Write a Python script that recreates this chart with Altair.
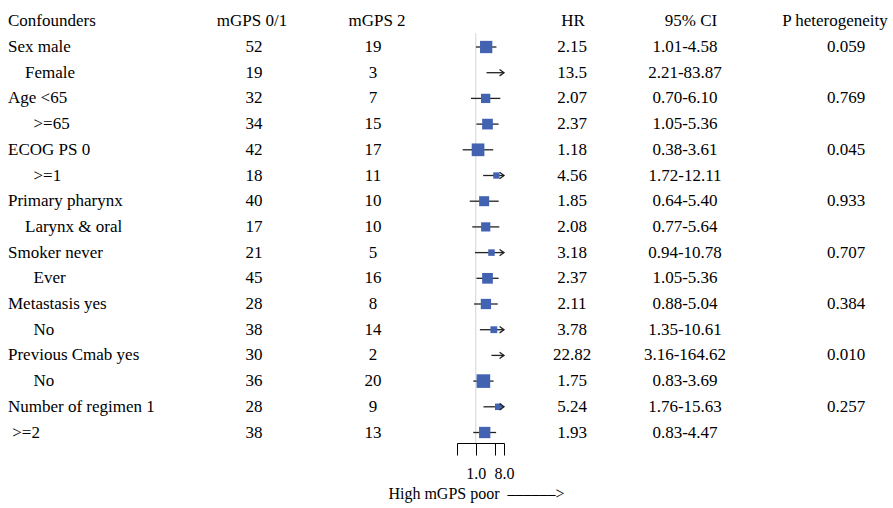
import altair as alt
import pandas as pd

NB = "\u00a0"
Z = "\u200b"
labels = ["Sex male", Z + NB*4 + "Female", "Age <65", Z + NB*6 + ">=65", "ECOG PS 0", Z + NB*6 + ">=1",
          "Primary pharynx", Z + NB*4 + "Larynx & oral", "Smoker never", Z + NB*6 + "Ever",
          "Metastasis yes", Z + NB*6 + "No", "Previous Cmab yes", Z + NB*6 + "No",
          "Number of regimen 1", Z + NB + ">=2"]
mgps01 = [52, 19, 32, 34, 42, 18, 40, 17, 21, 45, 28, 38, 30, 36, 28, 38]
mgps2 = [19, 3, 7, 15, 17, 11, 10, 10, 5, 16, 8, 14, 2, 20, 9, 13]
hr = [2.15, 13.5, 2.07, 2.37, 1.18, 4.56, 1.85, 2.08, 3.18, 2.37, 2.11, 3.78, 22.82, 1.75, 5.24, 1.93]
hr_text = ["2.15", "13.5", "2.07", "2.37", "1.18", "4.56", "1.85", "2.08", "3.18", "2.37",
           "2.11", "3.78", "22.82", "1.75", "5.24", "1.93"]
ci_lo = [1.01, 2.21, 0.70, 1.05, 0.38, 1.72, 0.64, 0.77, 0.94, 1.05, 0.88, 1.35, 3.16, 0.83, 1.76, 0.83]
ci_hi = [4.58, 83.87, 6.10, 5.36, 3.61, 12.11, 5.40, 5.64, 10.78, 5.36, 5.04, 10.61, 164.62, 3.69, 15.63, 4.47]
p_het = ["0.059", "", "0.769", "", "0.045", "", "0.933", "", "0.707", "", "0.384", "", "0.010", "", "0.257", ""]
weight = [12.3, 0, 9.3, 10.7, 12.7, 6.3, 10.0, 9.2, 6.5, 10.7, 10.3, 6.8, 0, 13.6, 6.5, 11.3]

headers = ["Confounders", "mGPS 0/1", "mGPS 2", "HR", "95% CI", "P heterogeneity"]
x_title = "High mGPS poor" + NB * 2 + "\u2013" * 6 + ">"
x_ticks = [0.25, 1, 4, 8]
X_MIN, X_MAX = 0.25, 8

df = pd.DataFrame({
    "row": list(range(len(labels))),
    "label": labels,
    "n01": [str(v) for v in mgps01],
    "n2": [str(v) for v in mgps2],
    "hr": hr,
    "hr_text": hr_text,
    "lo": ci_lo,
    "hi": ci_hi,
    "ci_text": [f"{a:.2f}-{b:.2f}" for a, b in zip(ci_lo, ci_hi)],
    "p": p_het,
    "w": weight,
})

FONT = "Liberation Serif"
FS = 17

Y = alt.Y("row:Q", scale=alt.Scale(domain=[0, 15], range=[47, 432.5]), axis=None)
XS = alt.Scale(type="log", domain=[X_MIN, X_MAX], range=[457, 504], nice=False)

base = alt.Chart(df)


def col(field, x, align="center"):
    return base.mark_text(font=FONT, fontSize=FS, align=align, baseline="middle", color="black").encode(
        x=alt.value(x), y=Y, text=f"{field}:N")


def head(text, x, align="center"):
    return alt.Chart(pd.DataFrame({"h": [text]})).mark_text(
        font=FONT, fontSize=FS, align=align, baseline="middle", color="black").encode(
        x=alt.value(x), y=alt.value(21), text="h:N")


ref = alt.Chart(pd.DataFrame({"v": [1]})).mark_rule(color="#d4d4d4", strokeWidth=1).encode(
    x=alt.X("v:Q", scale=XS), y=alt.value(33), y2=alt.value(443))

ci = base.transform_calculate(
    lo_c=f"max(datum.lo, {X_MIN})", hi_c=f"min(datum.hi, {X_MAX})"
).mark_rule(color="#222222", strokeWidth=1.3).encode(
    x=alt.X("lo_c:Q", scale=XS,
            axis=alt.Axis(values=x_ticks, format=".1f",
                          labelExpr="datum.value == 1 || datum.value == 8 ? format(datum.value, '.1f') : ''",
                          grid=False, tickSize=12, labelPadding=10, domainColor="black", tickColor="black",
                          labelColor="black", labelFont=FONT, labelFontSize=16, labelFlush=False,
                          labelOverlap=False,
                          title=x_title, titleFont=FONT, titleFontSize=16,
                          titleFontWeight="normal", titleColor="black", titleX=476, titleY=50,
                          titleBaseline="middle", titleAlign="center")),
    x2="hi_c:Q", y=Y)

arrows = base.transform_filter(f"datum.hi > {X_MAX}").transform_calculate(
    hi_c=f"min(datum.hi, {X_MAX})"
).mark_point(shape="M-1.4,-1L0,0L-1.4,1", filled=False, color="#222222", strokeWidth=1.3,
             size=40, opacity=1).encode(x=alt.X("hi_c:Q", scale=XS), y=Y)

boxes = base.transform_filter(f"datum.hr <= {X_MAX}").transform_calculate(
    area="datum.w * datum.w"
).mark_square(color="#4262b2", opacity=1).encode(
    x=alt.X("hr:Q", scale=XS), y=Y, size=alt.Size("area:Q", scale=None, legend=None))

layers = [
    ref, ci, boxes, arrows,
    col("label", 8, "left"),
    col("n01", 254),
    col("n2", 373),
    col("hr_text", 572),
    col("ci_text", 685),
    col("p", 846),
    head(headers[0], 8, "left"),
    head(headers[1], 252),
    head(headers[2], 377),
    head(headers[3], 573),
    head(headers[4], 691),
    head(headers[5], 835),
]

chart = alt.layer(*layers).properties(
    width=893, height=443,
    autosize=alt.AutoSizeParams(type="none"),
    padding={"left": 0, "top": 0, "right": 0, "bottom": 65},
    background="white",
).configure(font=FONT).configure_view(stroke=None)

chart.save("out.html", embed_options={"renderer": "svg", "actions": False})
